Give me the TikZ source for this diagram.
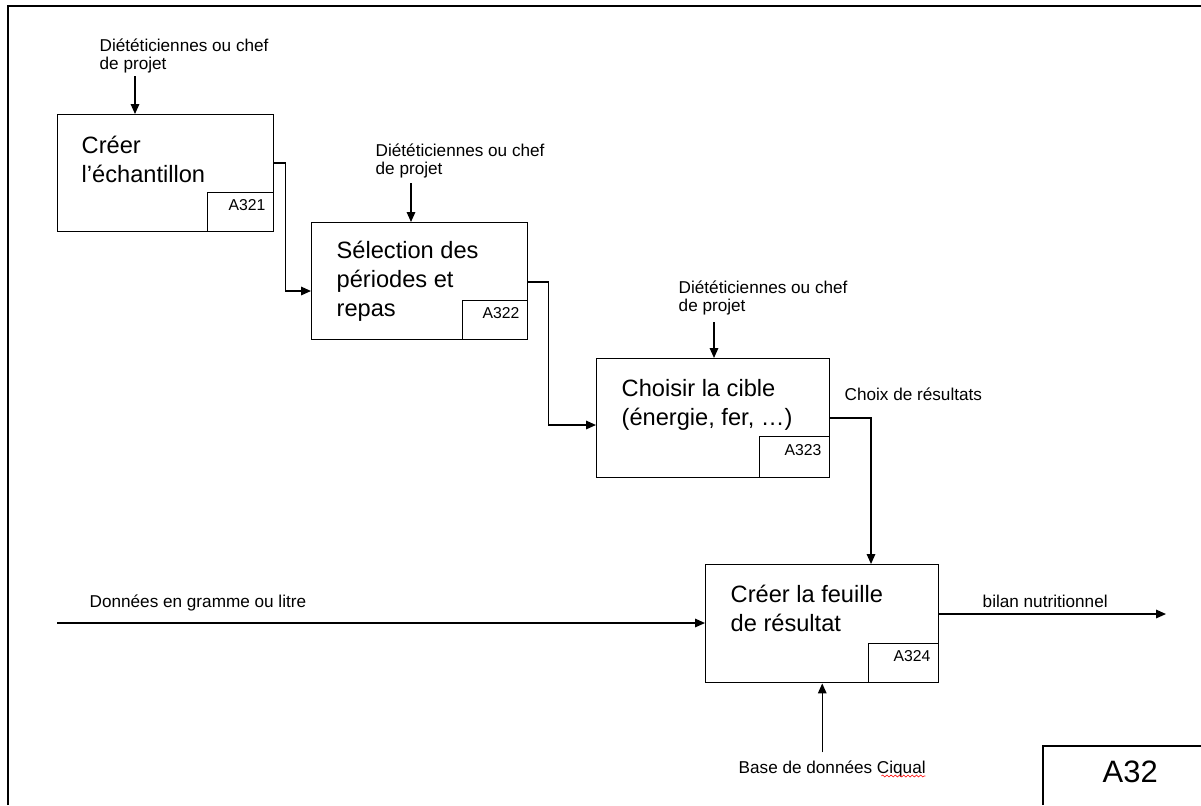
\documentclass[tikz,border=0pt]{standalone}
\usepackage{fontspec}
\setmainfont{Liberation Sans}
\usetikzlibrary{arrows.meta,calc,decorations.pathmorphing}
\newcommand\procfont{\fontsize{16.8}{20.6}\selectfont}
\newcommand\notefont{\fontsize{12.2}{12.8}\selectfont}
\newcommand\idfont{\fontsize{11.2}{13}\selectfont}
\newcommand\titlefont{\fontsize{22}{26}\selectfont}

\begin{document}
\begin{tikzpicture}[x=0.025cm, y=-0.025cm, line width=1pt,
  flow/.style={-{Triangle[length=7pt,width=6pt]}},
  procbox/.style={draw, rectangle, anchor=north west, inner sep=0pt},
  idbox/.style={draw, rectangle, anchor=south east, inner ysep=0pt, inner xsep=6pt,
    text width=#1, align=right, font=\idfont, text height=8pt, text depth=10pt},
  proctext/.style={anchor=base west, align=left, inner sep=0pt, font=\procfont},
  note/.style={anchor=base west, align=left, inner sep=0pt, font=\notefont},
]
\useasboundingbox (0,0) rectangle (1201,805);

% page frame
\draw (8,805) -- (8,6) -- (1201,6);

% activity A321 (text nodes are placed by the baseline of their last line)
\node[procbox, minimum width=5.4cm, minimum height=2.925cm] (b1) at (57,114) {};
\node[proctext] (b1t) at ($(b1.north west)+(24,68)$) {Créer\\l’échantillon};
\node[idbox=1.23cm, minimum height=0.975cm] (b1id) at (b1.south east) {A321};

% activity A322
\node[procbox, minimum width=5.4cm, minimum height=2.925cm] (b2) at (311,222) {};
\node[proctext] (b2t) at ($(b2.north west)+(25,94)$) {Sélection des\\périodes et\\repas};
\node[idbox=1.205cm, minimum height=0.975cm] (b2id) at (b2.south east) {A322};

% activity A323
\node[procbox, minimum width=5.825cm, minimum height=2.975cm] (b3) at (596,358) {};
\node[proctext] (b3t) at ($(b3.north west)+(25,67)$) {Choisir la cible\\(énergie, fer, …)};
\node[idbox=1.33cm, minimum height=1.025cm] (b3id) at (b3.south east) {A323};

% activity A324
\node[procbox, minimum width=5.825cm, minimum height=2.95cm] (b4) at (705,564) {};
\node[proctext] (b4t) at ($(b4.north west)+(25,67)$) {Créer la feuille\\de résultat};
\node[idbox=1.33cm, minimum height=0.975cm] (b4id) at (b4.south east) {A324};

% controls
\node[note] (c1) at (99,69) {Diététiciennes ou chef\\de projet};
\draw[flow] ($(c1.south west)+(36,3)$) coordinate (c1a) -- (c1a |- b1.north);
\node[note] (c2) at (375,174) {Diététiciennes ou chef\\de projet};
\draw[flow] ($(c2.south west)+(36,5)$) coordinate (c2a) -- (c2a |- b2.north);
\node[note] (c3) at (678,311) {Diététiciennes ou chef\\de projet};
\draw[flow] ($(c3.south west)+(36,7)$) coordinate (c3a) -- (c3a |- b3.north);

% flows between activities
\draw[flow] ($(b1.north east)+(0,49)$) -- ++(11,0) |- ($(b2.north west)+(0,69)$);
\draw[flow] ($(b2.north east)+(0,60)$) -- ++(20,0) |- ($(b3.north west)+(0,67)$);
\coordinate (b4in) at ($(b4.north west)+(166,0)$);
\draw[flow] ($(b3.north east)+(0,60)$) -| (b4in);
\node[note] (choix) at (844,400) {Choix de résultats};

% input
\coordinate (src) at (57,623);
\draw[flow] (src) -- (src -| b4.west);
\node[note] (donnees) at (89,607) {Données en gramme ou litre};

% output
\coordinate (sink) at (1166,614);
\draw[flow] (b4.east |- sink) -- (sink);
\node[note] (bilan) at (982,607) {bilan nutritionnel};

% mechanism
\node[note] (ciqual) at (738,773) {Base de données Ciqual};
\coordinate (mech) at ($(b4.south)+(0,69)$);
\draw[flow] (mech) -- (b4.south);
\draw[red, line width=0.4pt, decorate, decoration={snake, amplitude=0.7pt, segment length=3pt}]
  ($(ciqual.base east)+(-45,3)$) -- ($(ciqual.base east)+(-1,3)$);

% diagram number
\draw (1043,805) -- (1043,746) -- (1201,746);
\node[anchor=base west, inner sep=0pt, font=\titlefont] (a32) at (1102,782) {A32};
\end{tikzpicture}
\end{document}
